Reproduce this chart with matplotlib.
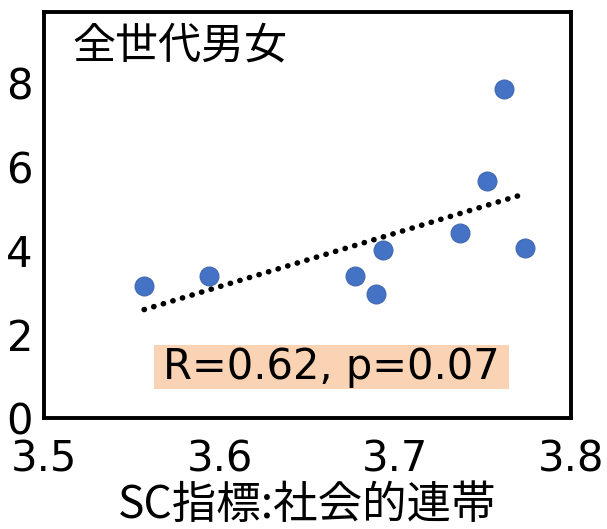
import numpy as np
import matplotlib
matplotlib.use("Agg")
import matplotlib.pyplot as plt
from matplotlib.patches import Rectangle

plt.rcParams['font.family'] = ['DejaVu Sans', 'Noto Sans CJK JP']

# data
x_vals = [3.557, 3.594, 3.677, 3.689, 3.693, 3.737, 3.752, 3.762, 3.774]
y_vals = [3.14, 3.39, 3.40, 2.95, 4.02, 4.41, 5.65, 7.85, 4.06]
x_ticks = [3.5, 3.6, 3.7, 3.8]
x_tick_labels = ["3.5", "3.6", "3.7", "3.8"]
y_ticks = [0, 2, 4, 6, 8]
y_tick_labels = ["0", "2", "4", "6", "8"]
title_text = "全世代男女"
stat_text = "R=0.62, p=0.07"
x_label = "SC指標:社会的連帯"

fig = plt.figure(figsize=(6.07, 5.29), dpi=100)
W, H = 607, 529
ax = fig.add_axes([44 / W, 1 - 418 / H, (571 - 44) / W, (418 - 12) / H])

x = np.array(x_vals)
y = np.array(y_vals)
ax.scatter(x, y, s=185, color='#4472C4', edgecolors='#3F67B1', linewidths=0.8, zorder=3)

slope, intercept = np.polyfit(x, y, 1)
xl = np.array([x.min(), x.max()])
ax.plot(xl, slope * xl + intercept, color='black', lw=4.0,
        linestyle=(0, (0.05, 1.75)), dash_capstyle='round', zorder=2)

ax.set_xlim(3.5, 3.8)
ax.set_ylim(0, 9.69)
ax.set_xticks(x_ticks)
ax.set_xticklabels(x_tick_labels)
ax.set_yticks(y_ticks)
ax.set_yticklabels(y_tick_labels)
ax.tick_params(axis='both', length=0, labelsize=30)
ax.tick_params(axis='x', pad=15)
ax.tick_params(axis='y', pad=8)
for sp in ax.spines.values():
    sp.set_linewidth(2.8)
    sp.set_color('black')

ax.text(0.053, 0.915, title_text, transform=ax.transAxes, fontsize=31,
        family=['Noto Sans CJK JP'], va='center', ha='left')
stat = ax.text(0.546, 0.126, stat_text, transform=ax.transAxes, fontsize=30,
               ha='center', va='center', zorder=4)
ax.set_xlabel(x_label, fontsize=32, family=['Noto Sans CJK JP', 'DejaVu Sans'], labelpad=1)

# peach box behind the statistics text, sized from the text extent
fig.canvas.draw()
bb = stat.get_window_extent(fig.canvas.get_renderer())
padx, pady = 9, 1
rect = Rectangle(((bb.x0 - padx) / W, (bb.y0 - pady) / H),
                 (bb.width + 2 * padx) / W, (bb.height + 2 * pady) / H,
                 transform=fig.transFigure, facecolor='#F9D3B3', edgecolor='none', zorder=1)
ax.add_artist(rect)

fig.savefig('out.png', dpi=100)
